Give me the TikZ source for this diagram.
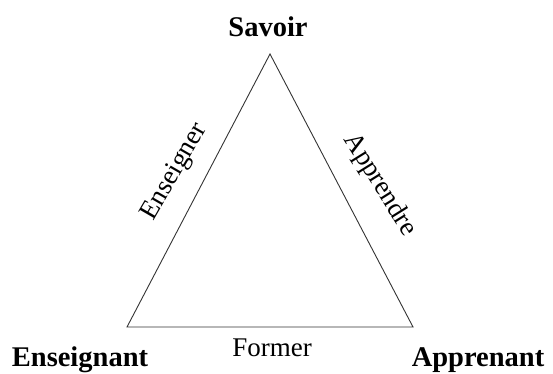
\documentclass[tikz,border=0pt]{standalone}
\usepackage{fontspec}
\setmainfont{Liberation Serif}
\usepackage{tikz}
\usetikzlibrary{positioning}

\begin{document}
\begin{tikzpicture}[x=1pt,y=1pt,
    pole/.style={font=\fontsize{28.5}{30}\selectfont\bfseries,anchor=base,inner sep=0pt},
    act/.style={font=\fontsize{27}{29}\selectfont,inner sep=0pt}]
  \useasboundingbox (0,0) rectangle (553,374);

  % corners of the triangle
  \coordinate (savoirpt) at (270,320);
  \coordinate (enspt) at (127,47);
  \coordinate (apppt) at (413,47);
  \draw[line width=0.9pt,black!80,line join=miter] (savoirpt) -- (enspt) -- (apppt) -- cycle;

  % the three poles
  \node[pole] (savoir) at (268,337) {Savoir};
  \node[pole] (enseignant) at (80,7) {Enseignant};
  \node[pole] (apprenant) at (478,7) {Apprenant};

  % the three actions along the sides
  \node[act,rotate=60] (enseigner) at (175,202) {Enseigner};
  \node[act,rotate=-58] (apprendre) at (380,189) {Apprendre};
  \node[act,anchor=base] (former) at (272,17) {Former};
\end{tikzpicture}
\end{document}
